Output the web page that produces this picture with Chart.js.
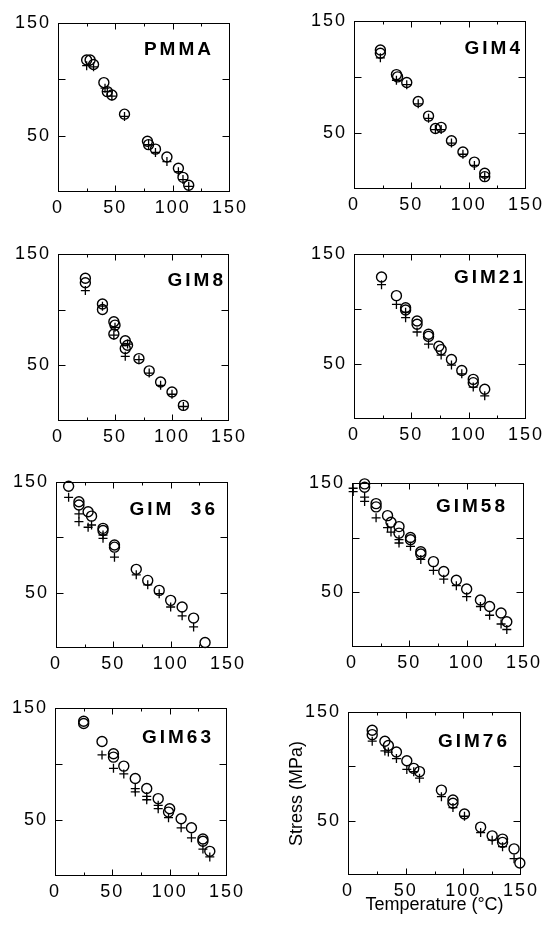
<!DOCTYPE html>
<html>
<head>
<meta charset="utf-8">
<script src="https://cdn.jsdelivr.net/npm/chart.js@4.4.1/dist/chart.umd.min.js"></script>
<style>
  html, body { margin: 0; padding: 0; background: #fff; }
  #page { position: relative; width: 548px; height: 931px; overflow: hidden; }
  canvas { position: absolute; }
</style>
</head>
<body>
<div id="page"></div>
<script>
// tick labels shared by all panels
const xTickLabels = [0, 50, 100, 150];
const yTickLabels = [50, 150];

// circles = one series, crosses = the other (temperature degC, stress MPa)
const pmmaCircleX = [25, 28, 31, 40, 43, 47, 58, 78, 79, 85, 95, 105, 109, 114];
const pmmaCircleY = [117, 117, 113, 97, 89, 86, 69, 45, 42, 38, 31, 21, 13, 6];
const pmmaPlusX = [25, 31, 41, 43, 47, 58, 79, 85, 95, 105, 109, 114];
const pmmaPlusY = [112, 111, 92, 89, 85, 67, 42, 35, 27, 18, 11, 5];

const gim4CircleX = [23, 23, 37, 38, 46, 56, 65, 71, 76, 85, 95, 105, 114, 114];
const gim4CircleY = [124, 121, 102, 100, 95, 78, 65, 54, 55, 43, 33, 24, 14, 11];
const gim4PlusX = [23, 37, 46, 56, 65, 71, 76, 85, 95, 105, 114];
const gim4PlusY = [117, 97, 93, 76, 63, 53, 53, 41, 31, 21, 11];

const gim8CircleX = [24, 24, 39, 39, 49, 50, 49, 59, 61, 59, 71, 80, 90, 100, 110];
const gim8CircleY = [128, 124, 105, 100, 89, 86, 78, 72, 68, 65, 56, 45, 35, 26, 14];
const gim8PlusX = [24, 39, 50, 49, 59, 61, 71, 80, 90, 100, 110];
const gim8PlusY = [117, 103, 84, 77, 58, 69, 55, 43, 32, 24, 13];

const gim21CircleX = [24, 37, 45, 45, 55, 55, 65, 65, 74, 76, 85, 94, 104, 104, 114];
const gim21CircleY = [129, 112, 101, 99, 89, 86, 77, 75, 66, 63, 54, 44, 36, 33, 27];
const gim21PlusX = [24, 37, 45, 45, 55, 65, 76, 85, 94, 104, 114];
const gim21PlusY = [122, 104, 97, 92, 79, 68, 58, 49, 41, 29, 21];

const gim36CircleX = [11, 20, 20, 28, 31, 41, 41, 51, 51, 70, 80, 90, 100, 110, 120, 130];
const gim36CircleY = [146, 132, 129, 123, 119, 108, 106, 93, 91, 71, 61, 52, 43, 37, 27, 5];
const gim36PlusX = [11, 20, 20, 28, 31, 41, 41, 51, 70, 80, 90, 100, 110, 120];
const gim36PlusY = [136, 121, 114, 109, 111, 102, 99, 82, 66, 57, 49, 37, 29, 19];

const gim58CircleX = [11, 11, 21, 21, 31, 34, 41, 41, 51, 51, 60, 60, 71, 80, 91, 100, 112, 120, 130, 135];
const gim58CircleY = [149, 146, 131, 128, 120, 114, 110, 104, 100, 98, 87, 85, 78, 69, 61, 53, 43, 37, 31, 23];
const gim58PlusX = [1, 1, 11, 11, 21, 31, 34, 41, 41, 51, 60, 71, 80, 91, 100, 112, 120, 130, 135];
const gim58PlusY = [145, 142, 137, 133, 118, 109, 105, 98, 95, 92, 80, 70, 62, 56, 46, 37, 29, 21, 16];

const gim63CircleX = [25, 25, 41, 51, 51, 60, 70, 80, 90, 100, 99, 110, 119, 129, 129, 135];
const gim63CircleY = [138, 136, 120, 109, 106, 98, 87, 78, 69, 60, 57, 51, 43, 33, 31, 22];
const gim63PlusX = [41, 51, 60, 70, 70, 80, 80, 90, 90, 99, 110, 119, 129, 135];
const gim63PlusY = [108, 96, 91, 78, 75, 71, 68, 63, 60, 52, 43, 34, 24, 17];

const gim76CircleX = [21, 21, 32, 35, 42, 51, 57, 62, 81, 91, 91, 101, 115, 125, 134, 134, 144, 149];
const gim76CircleY = [133, 129, 123, 119, 113, 105, 98, 95, 78, 69, 66, 56, 44, 36, 33, 30, 24, 11];
const gim76PlusX = [21, 32, 35, 42, 51, 57, 62, 81, 91, 101, 115, 125, 134, 144];
const gim76PlusY = [123, 114, 113, 107, 97, 95, 89, 72, 62, 54, 39, 32, 26, 15];

// area = [left, top, right, bottom] of the plot box on the page; label = [inset from right, baseline from top]
const panels = [
  { name: 'PMMA', cx: pmmaCircleX, cy: pmmaCircleY, px: pmmaPlusX, py: pmmaPlusY, area: [58, 19, 230, 192], label: [19, 32] },
  { name: 'GIM4', cx: gim4CircleX, cy: gim4CircleY, px: gim4PlusX, py: gim4PlusY, area: [354, 17, 526, 189], label: [6, 33] },
  { name: 'GIM8', cx: gim8CircleX, cy: gim8CircleY, px: gim8PlusX, py: gim8PlusY, area: [58, 250, 229, 421], label: [6, 32] },
  { name: 'GIM21', cx: gim21CircleX, cy: gim21CircleY, px: gim21PlusX, py: gim21PlusY, area: [354, 250, 526, 419], label: [3, 29] },
  { name: 'GIM  36', cx: gim36CircleX, cy: gim36CircleY, px: gim36PlusX, py: gim36PlusY, area: [56, 478, 228, 648], label: [13, 33] },
  { name: 'GIM58', cx: gim58CircleX, cy: gim58CircleY, px: gim58PlusX, py: gim58PlusY, area: [352, 479, 524, 647], label: [19, 29] },
  { name: 'GIM63', cx: gim63CircleX, cy: gim63CircleY, px: gim63PlusX, py: gim63PlusY, area: [55, 704, 227, 876], label: [16, 35] },
  { name: 'GIM76', cx: gim76CircleX, cy: gim76CircleY, px: gim76PlusX, py: gim76PlusY, area: [348, 708, 521, 875], label: [14, 35], titles: true }
];

const FONT = "'Liberation Sans', Arial, Helvetica, sans-serif";
const PAD_TOP = 14, PAD_RIGHT = 24;

// box with inward ticks, panel name, letter spacing for tick labels
const framePlugin = {
  id: 'frame',
  beforeDraw(chart) { chart.ctx.letterSpacing = '0px'; },
  afterDatasetsDraw(chart) { chart.ctx.letterSpacing = '2px'; },
  afterDraw(chart, args, opts) {
    const { ctx, chartArea: a, scales: { x, y } } = chart;
    ctx.save();
    ctx.strokeStyle = '#000';
    ctx.lineWidth = 1;
    const l = Math.round(a.left) + 0.5, r = Math.round(a.right) - 0.5;
    const t = Math.round(a.top) + 0.5, b = Math.round(a.bottom) - 0.5;
    ctx.strokeRect(l, t, r - l, b - t);
    ctx.beginPath();
    for (let v = 25; v < 150; v += 25) {
      const len = v % 50 === 0 ? 6 : 3;
      const px = Math.round(x.getPixelForValue(v)) + 0.5;
      ctx.moveTo(px, b); ctx.lineTo(px, b - len);
      ctx.moveTo(px, t); ctx.lineTo(px, t + len);
    }
    for (let v = 50; v < 150; v += 50) {
      const py = Math.round(y.getPixelForValue(v)) + 0.5;
      ctx.moveTo(l, py); ctx.lineTo(l + 7, py);
      ctx.moveTo(r, py); ctx.lineTo(r - 7, py);
    }
    ctx.stroke();

    ctx.letterSpacing = '3px';
    ctx.font = 'bold 19px ' + FONT;
    ctx.fillStyle = '#000';
    ctx.textAlign = 'right';
    ctx.textBaseline = 'alphabetic';
    ctx.fillText(opts.name, a.right - opts.dx + 3, a.top + opts.dy);
    ctx.restore();
  }
};

const toPoints = (xs, ys) => xs.map((x, i) => ({ x: x, y: ys[i] }));

const page = document.getElementById('page');

function makePanel(p) {
  const [L, T, R, B] = p.area;
  const yW = p.titles ? 68 : 58;
  const xH = p.titles ? 45 : 30;
  const w = yW + (R - L) + PAD_RIGHT;
  const h = PAD_TOP + (B - T) + xH;
  const canvas = document.createElement('canvas');
  canvas.width = w;
  canvas.height = h;
  canvas.style.left = (L - yW) + 'px';
  canvas.style.top = (T - PAD_TOP) + 'px';
  canvas.style.width = w + 'px';
  canvas.style.height = h + 'px';
  page.appendChild(canvas);

  const tickFont = { family: FONT, size: 18 };
  const titleFont = { family: FONT, size: 18 };

  new Chart(canvas, {
    type: 'scatter',
    data: {
      datasets: [
        {
          data: toPoints(p.cx, p.cy),
          pointStyle: 'circle',
          pointRadius: 5,
          pointBorderColor: '#000',
          pointBackgroundColor: 'rgba(0,0,0,0)',
          pointBorderWidth: 1.4,
          clip: false
        },
        {
          data: toPoints(p.px, p.py),
          pointStyle: 'cross',
          pointRadius: 4.5,
          pointBorderColor: '#000',
          pointBorderWidth: 1.3,
          clip: false
        }
      ]
    },
    options: {
      responsive: false,
      animation: false,
      devicePixelRatio: 1,
      layout: { padding: { top: PAD_TOP, right: PAD_RIGHT, left: 0, bottom: 0 } },
      plugins: {
        legend: { display: false },
        tooltip: { enabled: false },
        frame: { name: p.name, dx: p.label[0], dy: p.label[1] }
      },
      scales: {
        x: {
          type: 'linear',
          min: 0,
          max: 150,
          grid: { display: false, drawTicks: false },
          border: { display: false },
          ticks: {
            stepSize: 50, padding: 5, z: 1, color: '#000', font: tickFont,
            maxRotation: 0, autoSkip: false,
            callback: v => xTickLabels.includes(v) ? String(v) : ''
          },
          title: {
            display: !!p.titles, text: 'Temperature (°C)', color: '#000', font: titleFont,
            padding: { top: 0, bottom: 4 }
          },
          afterFit: s => { s.height = xH; }
        },
        y: {
          type: 'linear',
          min: 0,
          max: 150,
          grid: { display: false, drawTicks: false },
          border: { display: false },
          ticks: {
            stepSize: 50, padding: 7, z: 1, color: '#000', font: tickFont,
            autoSkip: false,
            callback: v => yTickLabels.includes(v) ? String(v) : ''
          },
          title: {
            display: !!p.titles, text: 'Stress (MPa)', color: '#000', font: titleFont,
            padding: { top: 6, bottom: 0 }
          },
          afterFit: s => { s.width = yW; }
        }
      }
    },
    plugins: [framePlugin]
  });
}

panels.forEach(makePanel);
</script>
</body>
</html>
